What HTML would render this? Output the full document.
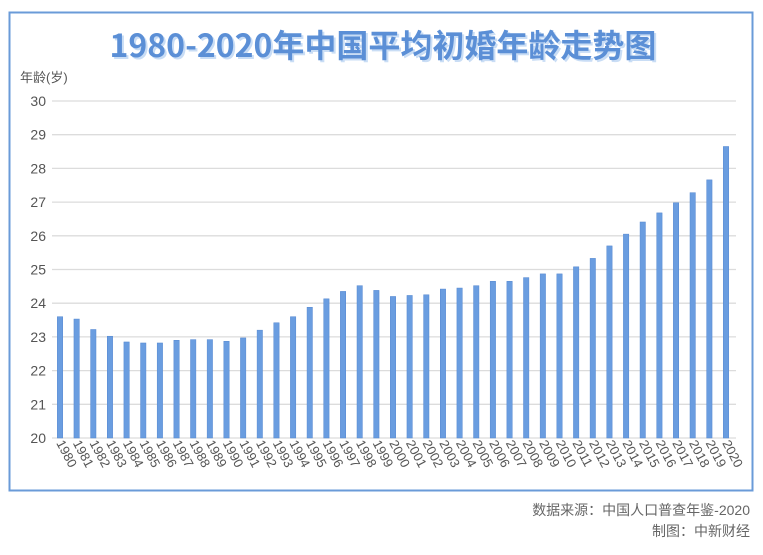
<!DOCTYPE html>
<html><head><meta charset="utf-8"><style>
body{margin:0;background:#fff;width:763px;height:550px;overflow:hidden;font-family:"Liberation Sans","Noto Sans CJK SC",sans-serif}
</style></head><body>
<svg width="763" height="550" xmlns="http://www.w3.org/2000/svg">
<rect x="9.5" y="12.5" width="743" height="478" fill="#fff" stroke="#6a9bd8" stroke-width="2"/>
<text x="385" y="59" text-anchor="middle" font-size="32" font-weight="bold" fill="#c9ddf5" font-family="'Noto Sans CJK SC',sans-serif">1980-2020年中国平均初婚年龄走势图</text>
<text x="383" y="57" text-anchor="middle" font-size="32" font-weight="bold" fill="#5b8fd6" font-family="'Noto Sans CJK SC',sans-serif">1980-2020年中国平均初婚年龄走势图</text>
<text x="20" y="82" font-size="13" fill="#555">年龄(岁)</text>
<g id="grid"></g><g id="bars"></g><g id="xl"></g>
<text x="750" y="515" text-anchor="end" font-size="14" fill="#666">数据来源：中国人口普查年鉴-2020</text>
<text x="750" y="536" text-anchor="end" font-size="14" fill="#666">制图：中新财经</text>
</svg>
<script>
const years=[];for(let y=1980;y<=2020;y++)years.push(String(y));
const ages=[23.6,23.53,23.22,23.02,22.85,22.82,22.82,22.9,22.92,22.92,22.87,22.97,23.2,23.42,23.6,23.88,24.13,24.35,24.52,24.38,24.2,24.23,24.25,24.42,24.45,24.52,24.65,24.65,24.76,24.87,24.87,25.08,25.33,25.7,26.05,26.41,26.68,26.98,27.28,27.66,28.65];
const yTicks=[20,21,22,23,24,25,26,27,28,29,30];
const NS='http://www.w3.org/2000/svg';
const yS=v=>438-(v-20)*33.7;
const xS=i=>60+i*16.65;
function mk(t,a,p){const e=document.createElementNS(NS,t);for(const k in a)e.setAttribute(k,a[k]);p.appendChild(e);return e;}
const g=document.getElementById('grid'),b=document.getElementById('bars'),xl=document.getElementById('xl');
yTicks.forEach(v=>{
 const l=mk('line',{x1:52,x2:736,y1:yS(v),y2:yS(v),stroke:'#dcdcdc','stroke-width':1.3},g);
 
 
 const t=mk('text',{x:46,y:yS(v)+5,'text-anchor':'end','font-size':14,fill:'#555'},g);
 t.textContent=v;
 
 
});
ages.forEach((v,i)=>{
 const r=mk('rect',{x:xS(i)-2.7,y:yS(v),width:5.4,height:yS(20)-yS(v),fill:'#6a9de0',stroke:'#5588d0','stroke-width':0.5},b);
 
 
 const t=mk('text',{x:0,y:0,'font-size':13,fill:'#555',transform:`translate(${xS(i)-4},${443}) rotate(62)`},xl);
 t.textContent=years[i];
 
 
});
</script>
</body></html>
